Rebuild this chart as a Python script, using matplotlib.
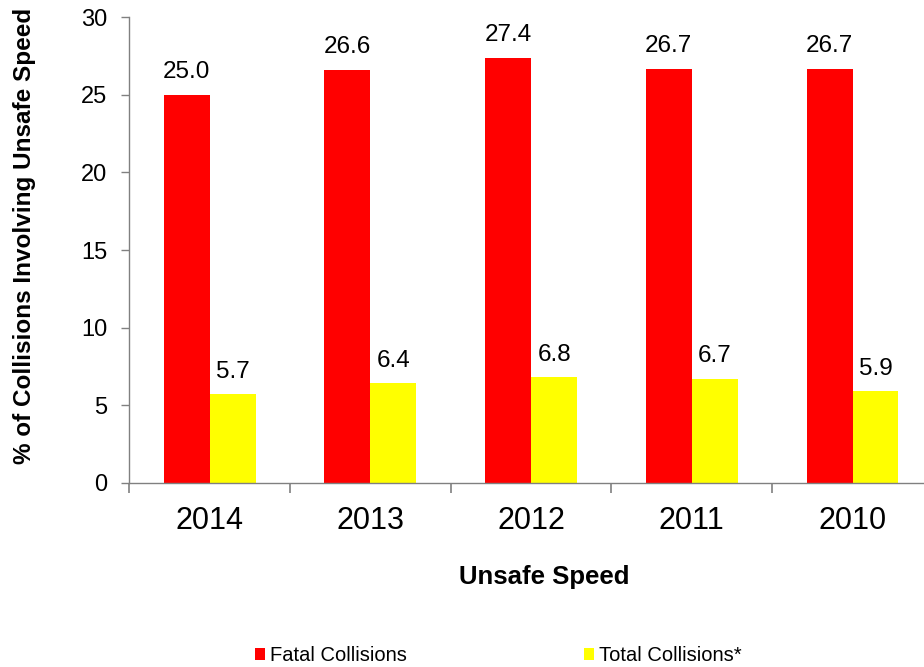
import numpy as np
import matplotlib.pyplot as plt

plt.rcParams["font.family"] = ["Liberation Sans", "DejaVu Sans"]

years = ["2014", "2013", "2012", "2011", "2010"]
fatal = [25.0, 26.6, 27.4, 26.7, 26.7]
total = [5.7, 6.4, 6.8, 6.7, 5.9]
series_names = ["Fatal Collisions", "Total Collisions*"]
yticks = [0, 5, 10, 15, 20, 25, 30]

fig = plt.figure(figsize=(9.24, 6.67), dpi=100)
ax = fig.add_axes([0.14, 0.2763, 0.8696, 0.6977])

x = np.arange(len(years))
w = 0.286
b1 = ax.bar(x - w / 2, fatal, w, color="#ff0000", label=series_names[0])
b2 = ax.bar(x + w / 2, total, w, color="#ffff00", label=series_names[1])

# value labels above each bar
for bars, vals in ((b1, fatal), (b2, total)):
    for rect, v in zip(bars, vals):
        ax.annotate(f"{v:.1f}", (rect.get_x() + rect.get_width() / 2, v),
                    xytext=(0, 12), textcoords="offset points",
                    ha="center", va="baseline", fontsize=17.5)

ax.set_xlim(-0.5, len(years) - 0.5)
ax.set_ylim(0, 30)
ax.set_yticks(yticks)
ax.set_xticks(x)
ax.set_xticklabels(years)
ax.set_xticks(np.arange(len(years) + 1) - 0.5, minor=True)

ax.tick_params(axis="x", which="major", length=0, pad=17, labelsize=22)
ax.tick_params(axis="x", which="minor", length=7, width=1.2, color="#808080")
ax.tick_params(axis="y", length=6, width=1, color="#808080", pad=10, labelsize=17)

for s in ("top", "right"):
    ax.spines[s].set_visible(False)
for s in ("left", "bottom"):
    ax.spines[s].set_color("#808080")
    ax.spines[s].set_linewidth(1.0)

fig.text(544 / 924, 0.135, "Unsafe Speed", ha="center", va="center",
         fontsize=18.5, fontweight="bold")
fig.text(0.026, 0.646, "% of Collisions Involving Unsafe Speed", ha="center",
         va="center", rotation=90, fontsize=17.5, fontweight="bold")

fig.legend(handles=[b1, b2], loc="center left", bbox_to_anchor=(255 / 924, 0.017),
           ncol=2, frameon=False, fontsize=14.5, handlelength=0.5,
           handleheight=0.5, handletextpad=0.25, columnspacing=8.8,
           borderpad=0, borderaxespad=0)

plt.savefig("out.png", dpi=100)
